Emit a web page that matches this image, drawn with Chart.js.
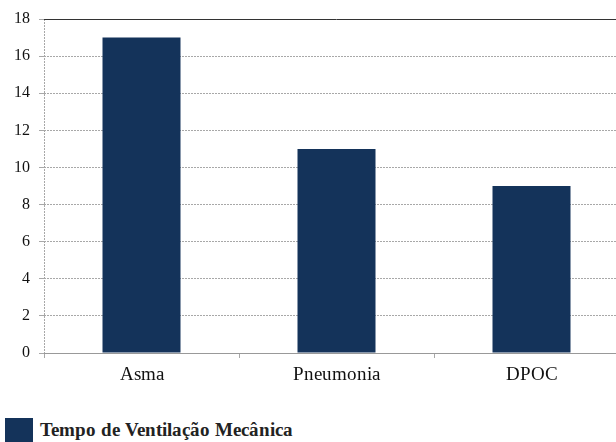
<!DOCTYPE html>
<html>
<head>
<meta charset="utf-8">
<script src="https://cdn.jsdelivr.net/npm/chart.js@4/dist/chart.umd.min.js"></script>
<style>
  @font-face { font-family: 'SerifX'; font-weight: 400; src: local('Liberation Serif'), local('LiberationSerif'), local('Tinos'); }
  @font-face { font-family: 'SerifX'; font-weight: 700; src: local('Liberation Serif Bold'), local('LiberationSerif-Bold'), local('Tinos Bold'); }
  html, body { margin: 0; padding: 0; background: #fff; overflow: hidden; }
  body { width: 616px; height: 442px; position: relative; }
  #wrap { position: absolute; left: 0; top: 0; width: 640px; height: 392px; }
  .leg { position: absolute; left: 5px; top: 418px; height: 24px; }
  .leg .cx { position: absolute; left: 0; top: 0; width: 28px; height: 24px; }
  .leg .tx { position: absolute; left: 35px; top: 1px; white-space: nowrap; line-height: 22px;
             font-family: SerifX, Tinos, 'Liberation Serif', 'DejaVu Serif', serif; font-weight: bold; font-size: 19px; color: #222; }
</style>
</head>
<body>
<div id="wrap"><canvas id="grafico"></canvas></div>
<div class="leg" id="legenda"></div>

<script>
// Dados
const categorias = ['Asma', 'Pneumonia', 'DPOC'];
const valores = [17, 11, 9];
const rotuloSerie = 'Tempo de Ventilação Mecânica';
const ticksY = [0, 2, 4, 6, 8, 10, 12, 14, 16, 18];

const COR_BARRA = '#14335a';
const COR_GRADE = '#a8a8a8';
const FONTE = "SerifX, Tinos, 'Liberation Serif', 'DejaVu Serif', serif";

// Legenda em HTML, montada a partir da série
document.getElementById('legenda').innerHTML =
    `<div class="cx" style="background:${COR_BARRA}"></div><div class="tx">${rotuloSerie}</div>`;

function desenhar() {
    new Chart(document.getElementById('grafico'), {
        type: 'bar',
        data: {
            labels: categorias,
            datasets: [{
                label: rotuloSerie,
                data: valores,
                backgroundColor: COR_BARRA,
                borderWidth: 0,
                barPercentage: 0.8,
                categoryPercentage: 0.5
            }]
        },
        options: {
            responsive: true,
            maintainAspectRatio: false,
            animation: false,
            layout: { padding: { top: 19, right: 11, left: 0, bottom: 0 } },
            plugins: {
                legend: { display: false },
                tooltip: { enabled: false }
            },
            scales: {
                x: {
                    offset: true,
                    grid: {
                        offset: true,
                        drawOnChartArea: true,
                        // só a primeira linha (eixo esquerdo) aparece na área do gráfico
                        color: c => c.index === 0 ? COR_GRADE : 'rgba(0,0,0,0)',
                        tickColor: COR_GRADE,
                        tickLength: 5
                    },
                    border: { display: true, color: '#999', width: 1, dash: [2, 1] },
                    ticks: {
                        color: '#111',
                        font: { family: FONTE, size: 19 },
                        padding: 6
                    },
                    afterFit: s => { s.height = 39; }
                },
                y: {
                    min: 0,
                    max: 18,
                    afterBuildTicks: s => { s.ticks = ticksY.map(v => ({ value: v })); },
                    grid: {
                        color: c => (c.tick && c.tick.value === 18) ? '#333' : COR_GRADE,
                        tickColor: COR_GRADE,
                        tickLength: 5
                    },
                    border: {
                        display: false,
                        dash: c => (c.tick && c.tick.value === 18) ? [] : [2, 1]
                    },
                    ticks: {
                        color: '#111',
                        font: { family: FONTE, size: 16 },
                        padding: 9
                    },
                    afterFit: s => { s.width = 44; }
                }
            }
        }
    });
}

// carrega a fonte local antes de desenhar no canvas
Promise.all([
    document.fonts.load('16px SerifX'),
    document.fonts.load('bold 19px SerifX')
]).then(desenhar, desenhar);
</script>
</body>
</html>
